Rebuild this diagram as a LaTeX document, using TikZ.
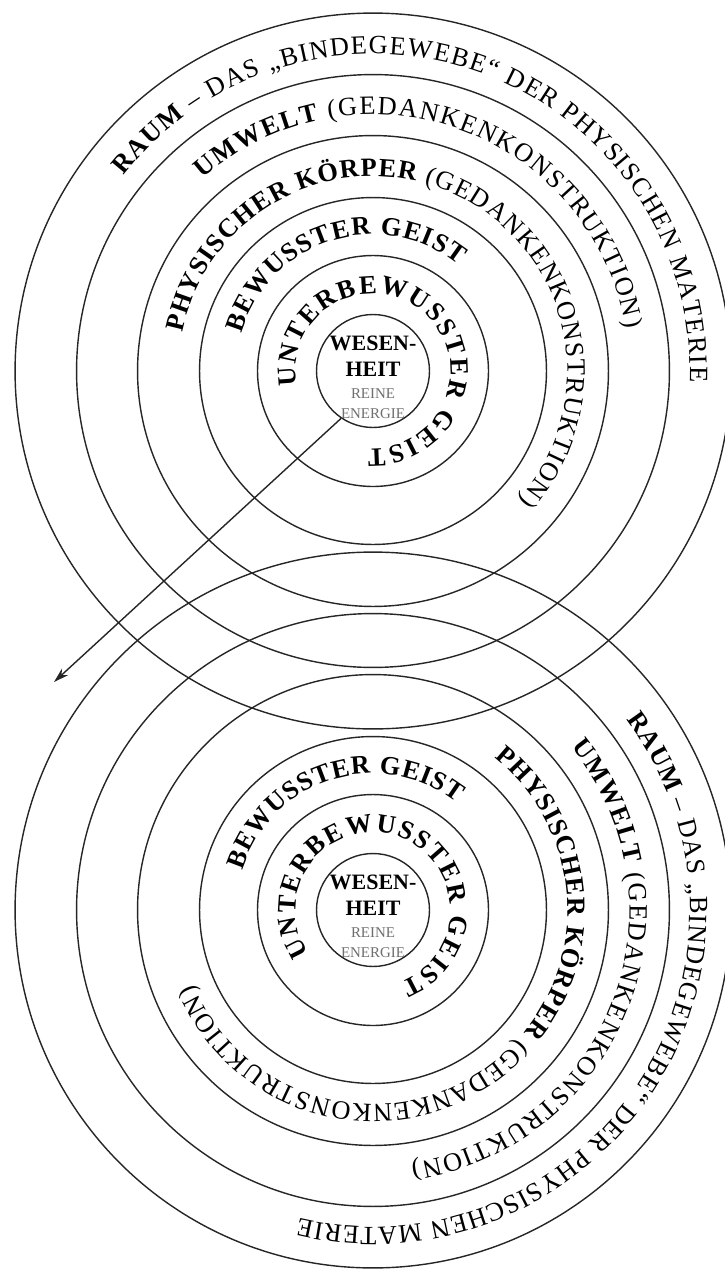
\documentclass[tikz,border=0pt]{standalone}
\usepackage{fontspec}
\setmainfont{Liberation Serif}
\usetikzlibrary{arrows.meta,decorations.text}
\definecolor{RingInk}{HTML}{262626}
\definecolor{CoreGrey}{HTML}{6E6E6E}
\newcommand{\ringbf}{\fontsize{15}{17}\selectfont\bfseries}
\newcommand{\ringmd}{\fontsize{15}{17}\selectfont\mdseries}
\newcommand{\coresmall}{\mdseries\fontsize{8.5}{10}\selectfont\color{CoreGrey}}

\begin{document}
\begin{tikzpicture}[x=0.02cm,y=-0.02cm,
  ring/.style={draw=RingInk,line width=0.8pt,circle,inner sep=0pt,minimum size=#1},
  ringtext/.style={decorate,decoration={text along path,text align=fit to path,text={#1}}},
  coretext/.style={align=center,inner sep=0pt,font=\fontsize{12.5}{13}\selectfont\bfseries}
]
\useasboundingbox (0,0) rectangle (724,1272);
\coordinate (tc) at (373,371);
\coordinate (bc) at (373,910);

\node[ring=2.26cm] (tWesen) at (tc) {};
\node[ring=4.62cm] (tUnter) at (tc) {};
\node[ring=6.94cm] (tBewusst) at (tc) {};
\node[ring=9.42cm] (tKoerper) at (tc) {};
\node[ring=11.86cm] (tUmwelt) at (tc) {};
\node[ring=14.32cm] (tRaum) at (tc) {};

\node[ring=2.26cm] (bWesen) at (bc) {};
\node[ring=4.62cm] (bUnter) at (bc) {};
\node[ring=6.94cm] (bBewusst) at (bc) {};
\node[ring=9.42cm] (bKoerper) at (bc) {};
\node[ring=11.86cm] (bUmwelt) at (bc) {};
\node[ring=14.32cm] (bRaum) at (bc) {};

\node[coretext] (tWesenText) at (373,377) {WESEN-\\[1.7pt]HEIT\\[-0.5pt]{\coresmall REINE}\\[-1.7pt]{\coresmall ENERGIE}};
\node[coretext] (bWesenText) at (373,916) {WESEN-\\[1.7pt]HEIT\\[-0.5pt]{\coresmall REINE}\\[-1.7pt]{\coresmall ENERGIE}};

\path[ringtext={|\ringbf|RAUM|\ringmd| – DAS „BINDEGEWEBE“ DER PHYSISCHEN MATERIE}] (tc) ++(142:6.34cm) arc[start angle=142,end angle=-2,radius=6.34cm];
\path[ringtext={|\ringbf|UMWELT|\ringmd| (GEDANKENKONSTRUKTION)}] (tc) ++(131.5:5.13cm) arc[start angle=131.5,end angle=9.5,radius=5.13cm];
\path[ringtext={|\ringbf|PHYSISCHER KÖRPER|\ringmd| (GEDANKENKONSTRUKTION)}] (tc) ++(168.5:3.89cm) arc[start angle=168.5,end angle=-41.5,radius=3.89cm];
\path[ringtext={|\ringbf|BEWUSSTER GEIST}] (tc) ++(164:2.73cm) arc[start angle=164,end angle=51,radius=2.73cm];
\path[ringtext={|\ringbf|UNTERBEWUSSTER GEIST}] (tc) ++(191:1.55cm) arc[start angle=191,end angle=-94,radius=1.55cm];

\path[ringtext={|\ringbf|RAUM|\ringmd| – DAS „BINDEGEWEBE“ DER PHYSISCHEN MATERIE}] (bc) ++(37:6.34cm) arc[start angle=37,end angle=-103.5,radius=6.34cm];
\path[ringtext={|\ringbf|UMWELT|\ringmd| (GEDANKENKONSTRUKTION)}] (bc) ++(39.5:5.13cm) arc[start angle=39.5,end angle=-81.5,radius=5.13cm];
\path[ringtext={|\ringbf|PHYSISCHER KÖRPER|\ringmd| (GEDANKENKONSTRUKTION)}] (bc) ++(51.5:3.89cm) arc[start angle=51.5,end angle=-157.5,radius=3.89cm];
\path[ringtext={|\ringbf|BEWUSSTER GEIST}] (bc) ++(163:2.73cm) arc[start angle=163,end angle=52,radius=2.73cm];
\path[ringtext={|\ringbf|UNTERBEWUSSTER GEIST}] (bc) ++(214:1.55cm) arc[start angle=214,end angle=-69,radius=1.55cm];

\coordinate (arrowTip) at (54,682);
\draw[RingInk,line width=0.8pt,-{Stealth[length=0.3cm,width=0.18cm]}] (tWesen.236) -- (arrowTip);
\end{tikzpicture}
\end{document}
